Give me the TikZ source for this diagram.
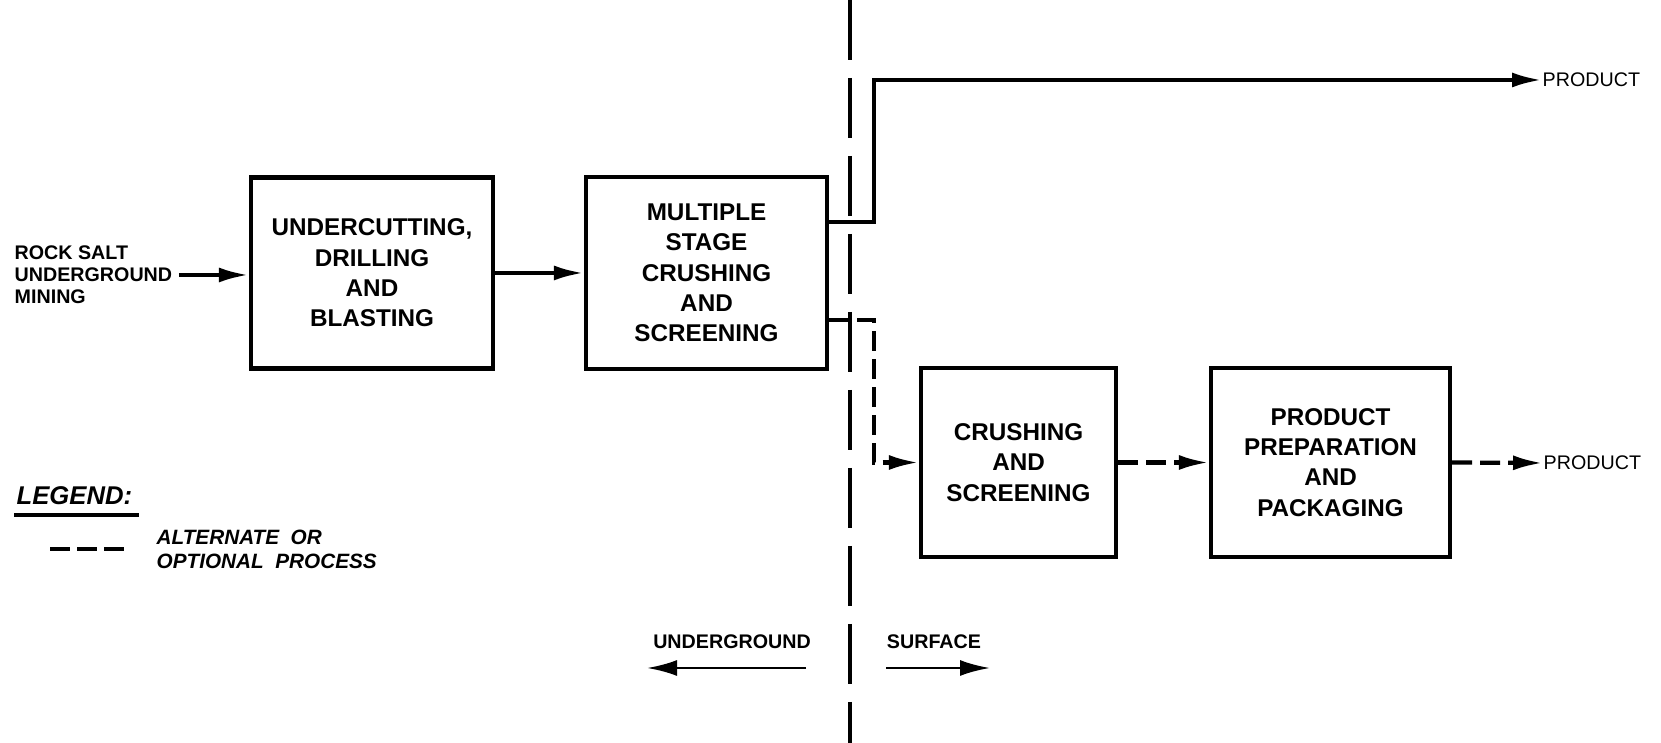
\documentclass[tikz,border=0pt]{standalone}
\usepackage{fontspec}
\setmainfont{Liberation Sans}
\usepackage{tikz}
\usetikzlibrary{arrows.meta,calc,positioning}

\begin{document}
\begin{tikzpicture}[>={Latex[length=3mm,width=1.5mm]},
	box/.style={draw,line width=1.2pt,align=center,font=\bfseries\fontsize{6.9}{8.6}\selectfont},
	flow/.style={->,line width=1.2pt},
	alt/.style={->,line width=1.2pt,dash pattern=on 0.2cm off 0.08cm},
	lbl/.style={font=\bfseries\fontsize{5.6}{6.3}\selectfont,align=left,inner sep=0pt}]
		\useasboundingbox (0,0) rectangle (16.61,7.43);
		% boundary underground / surface
		\draw[line width=1.2pt,dash pattern=on 0.6cm off 0.18cm] (8.5,7.43)--(8.5,0);
		% underground boxes
		\node[box,minimum width=2.42cm,minimum height=1.91cm] (undercut) at (3.72,4.70) {UNDERCUTTING,\\ DRILLING\\ AND\\ BLASTING};
		\node[box,minimum width=2.41cm,minimum height=1.92cm] (multi) at (7.065,4.70) {MULTIPLE\\ STAGE\\ CRUSHING\\ AND\\ SCREENING};
		% surface boxes
		\node[box,minimum width=1.95cm,minimum height=1.89cm] (crush) at (10.185,2.805) {CRUSHING\\ AND\\ SCREENING};
		\node[box,minimum width=2.39cm,minimum height=1.89cm] (pack) at (13.305,2.805) {PRODUCT\\ PREPARATION\\ AND\\ PACKAGING};
		% input
		\node[lbl,anchor=west] (rock) at (0.14,4.68) {ROCK SALT\\ UNDERGROUND\\ MINING};
		\draw[flow] (rock.east)++(0.06,0) coordinate (rockout) -- (rockout -| undercut.west);
		\draw[flow] (undercut.east) -- (undercut.east -| multi.west);
		% main product line
		\coordinate (topout) at ($(multi.east)+(0,0.51)$);
		\node[anchor=west,inner sep=0pt,font=\fontsize{5.6}{6.3}\selectfont] (prod1) at (15.42,6.63) {PRODUCT};
		\draw[flow] (topout) -| (8.74,6.63) -- (prod1.west);
		% optional route
		\coordinate (altout) at ($(multi.east)+(0,-0.47)$);
		\coordinate (altbend) at (8.74,4.23);
		\draw[alt] (altout) -- (altbend) |- (crush.west);
		\draw[alt] (crush.east) -- (pack.west);
		\node[anchor=west,inner sep=0pt,font=\fontsize{5.6}{6.3}\selectfont] (prod2) at (15.43,2.80) {PRODUCT};
		\draw[alt] (pack.east) -- (prod2.west);
		% legend
		\node[anchor=west,inner sep=0pt,font=\bfseries\itshape\fontsize{7.3}{8}\selectfont] (legend) at (0.16,2.47) {LEGEND:};
		\draw[line width=1.1pt] ($(legend.south west)+(-0.02,-0.09)$) -- ($(legend.south east)+(0.06,-0.09)$);
		\node[anchor=west,inner sep=0pt,align=left,font=\bfseries\itshape\fontsize{5.9}{6.9}\selectfont] (legtxt) at (1.56,1.94) {ALTERNATE\ \ OR\\ OPTIONAL\ \ PROCESS};
		\draw[line width=1pt,dash pattern=on 0.2cm off 0.07cm] (0.5,1.94) -- (1.24,1.94);
		% underground / surface
		\node[lbl] (under) at (7.32,1.01) {UNDERGROUND};
		\node[lbl] (surf) at (9.34,1.01) {SURFACE};
		\coordinate (uend) at (6.47,0.75);
		\coordinate (send) at (9.90,0.75);
		\draw[->,line width=0.8pt,>={Latex[length=3mm,width=1.6mm]}] (8.06,0.75) -- (uend);
		\draw[->,line width=0.8pt,>={Latex[length=3mm,width=1.6mm]}] (8.86,0.75) -- (send);
\end{tikzpicture}
\end{document}
